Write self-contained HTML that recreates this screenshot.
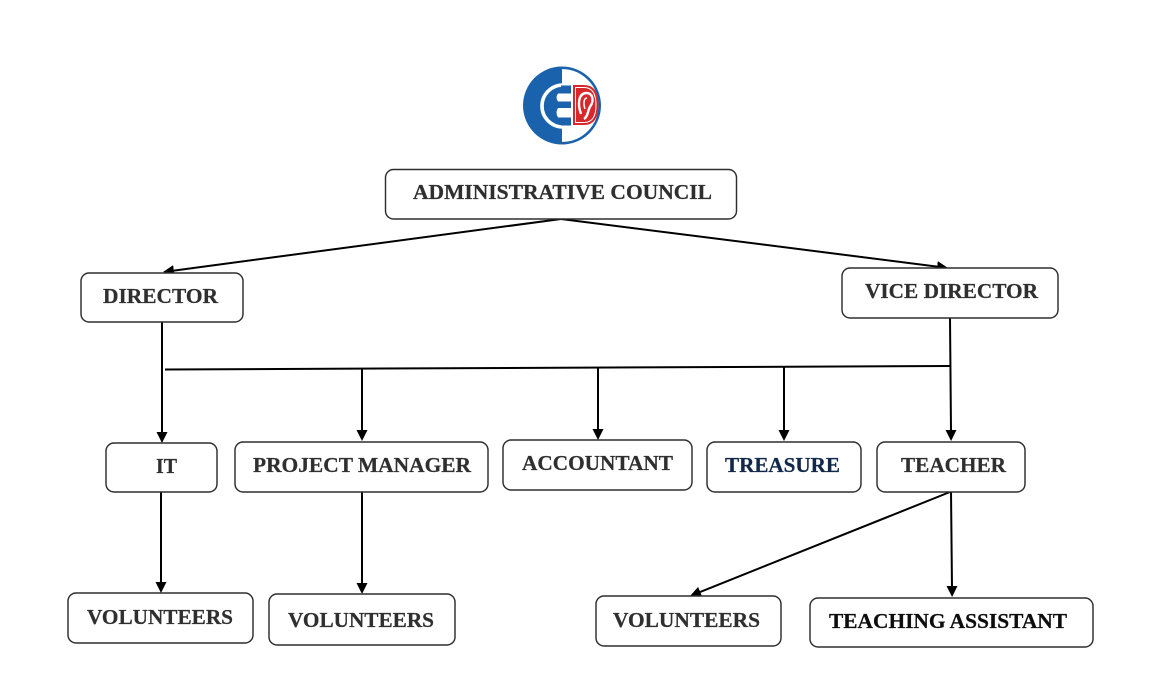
<!DOCTYPE html>
<html>
<head>
<meta charset="utf-8">
<style>
  html, body { margin:0; padding:0; background:#ffffff; }
  body { width:1156px; height:694px; overflow:hidden; }
  svg { display:block; }
  .box { fill:#ffffff; stroke:#2e2e2e; stroke-width:1.45; }
  .lbl { font-family:"Liberation Serif", "Times New Roman", serif; font-weight:bold; font-size:21px; fill:#2f2f2f; stroke:#2f2f2f; stroke-width:0.25; }
  .ln { stroke:#000000; stroke-width:2; fill:none; }
</style>
</head>
<body>
<svg width="1156" height="694" viewBox="0 0 1156 694" xmlns="http://www.w3.org/2000/svg">
  <defs>
    <marker id="ah" markerUnits="userSpaceOnUse" markerWidth="12" markerHeight="12" refX="1" refY="6" orient="auto">
      <path d="M0,0.5 L11,6 L0,11.5 Z" fill="#000"/>
    </marker>
  </defs>
  <rect x="0" y="0" width="1156" height="694" fill="#ffffff"/>

  <!-- Logo -->
  <g>
    <path d="M562,66.5 A39,39 0 0 0 562,144.5 Z" fill="#1a62ab"/>
    <path d="M562,67.8 A37.7,37.7 0 0 1 562,143.2" fill="none" stroke="#1a62ab" stroke-width="2.6"/>
    <!-- white ring around E -->
    <path d="M563,85 A20.5,20.5 0 1 0 563,127" fill="none" stroke="#ffffff" stroke-width="3.6"/>
    <!-- E arms extension -->
    <rect x="561" y="85.5" width="10" height="8" fill="#1a62ab"/>
    <rect x="561" y="101.5" width="10" height="6.5" fill="#1a62ab"/>
    <rect x="561" y="117.5" width="10" height="8" fill="#1a62ab"/>
    <!-- E gaps -->
    <path d="M571,93.5 L558,93.5 Q555,97.5 558,101.5 L571,101.5 Z" fill="#ffffff"/>
    <path d="M571,108 L558,108 Q555,112.5 558,117.5 L571,117.5 Z" fill="#ffffff"/>
    <!-- Red D -->
    <path d="M573,85 L584,85 Q598.5,85 598.5,105 Q598.5,125 584,125 L573,125 Z" fill="#d7282b"/>
    <path d="M575.5,87.5 L584,87.5 Q596,87.5 596,105 Q596,122.5 584,122.5 L575.5,122.5 Z" fill="none" stroke="#ffffff" stroke-width="1"/>
    <path d="M581,114 C577,103 579,93 586.5,93 C593,93 594,101 590.5,106 C587.5,110 588.5,116 584,119" fill="none" stroke="#ffffff" stroke-width="2.4"/>
    <path d="M585,109 C583,103 584,98 587,98" fill="none" stroke="#ffffff" stroke-width="1.5"/>
  </g>

  <!-- Connectors -->
  <line class="ln" x1="561" y1="219" x2="172.9" y2="270.7" marker-end="url(#ah)"/>
  <line class="ln" x1="561" y1="219" x2="938.1" y2="266.7" marker-end="url(#ah)"/>
  <line class="ln" x1="162" y1="322" x2="162" y2="433" marker-end="url(#ah)"/>
  <line class="ln" x1="165" y1="369.5" x2="950" y2="366"/>
  <line class="ln" x1="362" y1="369" x2="362" y2="431" marker-end="url(#ah)"/>
  <line class="ln" x1="598" y1="367.5" x2="598" y2="430" marker-end="url(#ah)"/>
  <line class="ln" x1="784" y1="367" x2="784" y2="431" marker-end="url(#ah)"/>
  <line class="ln" x1="950" y1="318" x2="951" y2="431" marker-end="url(#ah)"/>
  <line class="ln" x1="161" y1="492" x2="161" y2="583" marker-end="url(#ah)"/>
  <line class="ln" x1="362" y1="492" x2="362" y2="584" marker-end="url(#ah)"/>
  <line class="ln" x1="950" y1="492" x2="699.3" y2="592.3" marker-end="url(#ah)"/>
  <line class="ln" x1="951" y1="492" x2="952" y2="587" marker-end="url(#ah)"/>

  <!-- Boxes -->
  <rect class="box" x="385.5" y="169.5" width="351" height="49.5" rx="8"/>
  <rect class="box" x="81" y="273" width="162" height="49" rx="8"/>
  <rect class="box" x="842" y="268" width="216" height="50" rx="8"/>
  <rect class="box" x="106" y="443" width="111" height="49" rx="8"/>
  <rect class="box" x="235" y="442" width="253" height="50" rx="8"/>
  <rect class="box" x="503" y="440" width="189" height="50" rx="8"/>
  <rect class="box" x="707" y="442" width="154" height="50" rx="8"/>
  <rect class="box" x="877" y="442" width="148" height="50" rx="8"/>
  <rect class="box" x="68" y="593" width="185" height="50" rx="8"/>
  <rect class="box" x="269" y="594" width="186" height="51" rx="8"/>
  <rect class="box" x="596" y="596" width="185" height="50" rx="8"/>
  <rect class="box" x="810" y="598" width="283" height="49" rx="8"/>

  <!-- Labels -->
  <text class="lbl" x="413" y="199" textLength="299" lengthAdjust="spacingAndGlyphs">ADMINISTRATIVE COUNCIL</text>
  <text class="lbl" x="103" y="303" textLength="115" lengthAdjust="spacingAndGlyphs">DIRECTOR</text>
  <text class="lbl" x="865" y="298" textLength="173" lengthAdjust="spacingAndGlyphs">VICE DIRECTOR</text>
  <text class="lbl" x="156" y="473" textLength="21" lengthAdjust="spacingAndGlyphs">IT</text>
  <text class="lbl" x="253" y="472" textLength="218" lengthAdjust="spacingAndGlyphs">PROJECT MANAGER</text>
  <text class="lbl" x="522" y="470" textLength="151" lengthAdjust="spacingAndGlyphs">ACCOUNTANT</text>
  <text class="lbl" x="725" y="472" textLength="115" lengthAdjust="spacingAndGlyphs" style="fill:#12284a;stroke:#12284a">TREASURE</text>
  <text class="lbl" x="901" y="472" textLength="105" lengthAdjust="spacingAndGlyphs">TEACHER</text>
  <text class="lbl" x="87" y="624" textLength="146" lengthAdjust="spacingAndGlyphs">VOLUNTEERS</text>
  <text class="lbl" x="288" y="627" textLength="146" lengthAdjust="spacingAndGlyphs">VOLUNTEERS</text>
  <text class="lbl" x="613" y="627" textLength="147" lengthAdjust="spacingAndGlyphs">VOLUNTEERS</text>
  <text class="lbl" x="829" y="628" textLength="238" lengthAdjust="spacingAndGlyphs" style="fill:#0d0d0d;stroke:#0d0d0d">TEACHING ASSISTANT</text>
</svg>
</body>
</html>
